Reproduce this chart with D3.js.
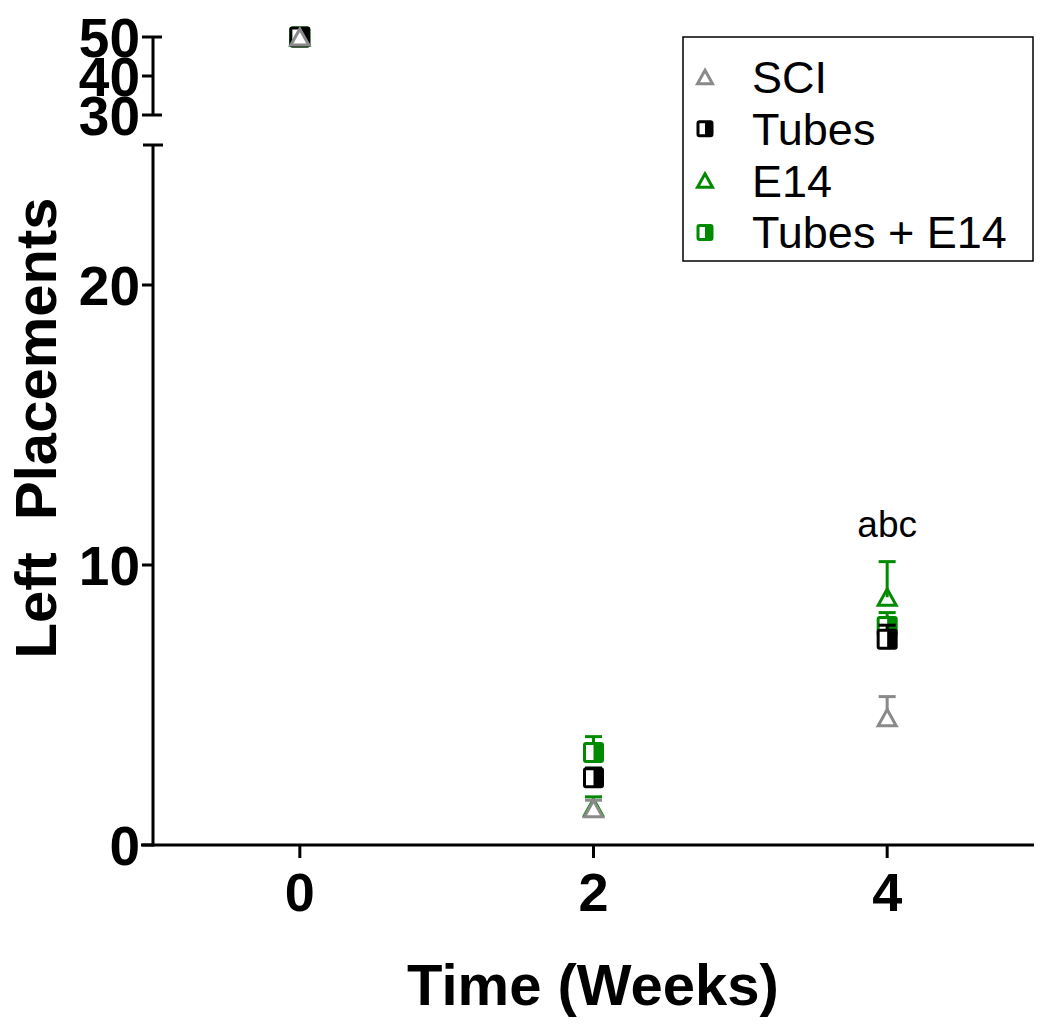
<!DOCTYPE html>
<html>
<head>
<meta charset="utf-8">
<script src="https://cdn.jsdelivr.net/npm/d3@7/dist/d3.min.js"></script>
<style>
  html, body { margin: 0; padding: 0; background: #fff; }
  svg { display: block; font-family: "Liberation Sans", Arial, Helvetica, sans-serif; }
</style>
</head>
<body>
<svg id="chart" width="1050" height="1030"></svg>
<script>
// ---- data ----
const weeks = [0, 2, 4];
const xTicks = [0, 2, 4];
const yTicksLow = [0, 10, 20];
const yTicksHigh = [30, 40, 50];
const seriesNames = ["SCI", "Tubes", "E14", "Tubes + E14"];
const sciMean = [50, 1.3, 4.55];
const sciErr = [0, 0.3, 0.75];
const tubesMean = [50, 2.4, 7.35];
const tubesErr = [0, 0.35, 0.5];
const e14Mean = [50, 1.35, 8.85];
const e14Err = [0, 0.37, 1.27];
const tubesE14Mean = [50, 3.3, 7.8];
const tubesE14Err = [0, 0.57, 0.5];
const annotation = "abc";

// ---- styles ----
const GREEN = "#008a00", GRAY = "#8a8a8a", BLACK = "#000";
const series = [
  { name: seriesNames[0], mean: sciMean, err: sciErr, color: GRAY, shape: "tri", fill: "#fff" },
  { name: seriesNames[1], mean: tubesMean, err: tubesErr, color: BLACK, shape: "sq" },
  { name: seriesNames[2], mean: e14Mean, err: e14Err, color: GREEN, shape: "tri", fill: "none" },
  { name: seriesNames[3], mean: tubesE14Mean, err: tubesE14Err, color: GREEN, shape: "sq" }
];
const drawOrder = [2, 3, 1, 0];

const svg = d3.select("#chart");
const x = d3.scaleLinear().domain([-1, 5]).range([153, 1034]);
const yLow = d3.scaleLinear().domain([0, 25]).range([845, 145]);
const yHigh = d3.scaleLinear().domain([30, 50]).range([115, 37]);
const y = v => v >= 30 ? yHigh(v) : yLow(v);
const axisX = x(-1);

// ---- axes ----
const ax = svg.append("g").attr("stroke", "#000").attr("stroke-width", 3).attr("fill", "none");
ax.append("line").attr("x1", axisX).attr("x2", axisX).attr("y1", yLow(25)).attr("y2", yLow(0) + 1.5);
ax.append("line").attr("x1", axisX - 10).attr("x2", axisX + 10).attr("y1", yLow(25)).attr("y2", yLow(25));
yTicksLow.forEach(t => {
  ax.append("line").attr("x1", axisX - 11).attr("x2", axisX).attr("y1", yLow(t)).attr("y2", yLow(t));
});
ax.append("line").attr("x1", axisX).attr("x2", axisX).attr("y1", yHigh(50)).attr("y2", yHigh(30));
yTicksHigh.forEach(t => {
  const end = (t === 30 || t === 50);
  ax.append("line").attr("x1", axisX - 11).attr("x2", end ? axisX + 9 : axisX).attr("y1", yHigh(t)).attr("y2", yHigh(t));
});
ax.append("line").attr("x1", axisX - 12).attr("x2", x(5)).attr("y1", yLow(0)).attr("y2", yLow(0));
xTicks.forEach(t => {
  ax.append("line").attr("x1", x(t)).attr("x2", x(t)).attr("y1", yLow(0)).attr("y2", yLow(0) + 13);
});

// tick labels
const tl = svg.append("g").attr("font-weight", "bold").attr("font-size", 55).attr("fill", "#000");
yTicksLow.forEach(t => {
  tl.append("text").attr("x", axisX - 13).attr("y", yLow(t)).attr("dy", "0.36em").attr("text-anchor", "end").text(t);
});
yTicksHigh.forEach(t => {
  tl.append("text").attr("x", axisX - 13).attr("y", yHigh(t)).attr("dy", "0.36em").attr("text-anchor", "end").text(t);
});
xTicks.forEach(t => {
  tl.append("text").attr("x", x(t)).attr("y", 911).attr("text-anchor", "middle").attr("font-size", 54).text(t);
});

// axis titles
svg.append("text").attr("x", 593).attr("y", 1005).attr("text-anchor", "middle")
  .attr("font-weight", "bold").attr("font-size", 58).text("Time (Weeks)");
svg.append("text").attr("transform", "translate(56,428) rotate(-90)").attr("text-anchor", "middle")
  .attr("font-weight", "bold").attr("font-size", 58)
  .text("Left\u00a0\u00a0Placements");

// ---- markers ----
function drawMarker(g, cx, cy, s, color, shape, sw, fill) {
  if (shape === "tri") {
    const h = s * 0.9;
    g.append("path")
      .attr("d", `M${cx},${cy - h / 2}L${cx + s / 2},${cy + h / 2}L${cx - s / 2},${cy + h / 2}Z`)
      .attr("fill", fill || "none").attr("stroke", color).attr("stroke-width", sw).attr("stroke-linejoin", "miter");
  } else {
    g.append("rect").attr("x", cx - s / 2).attr("y", cy - s / 2).attr("width", s).attr("height", s)
      .attr("fill", "#fff").attr("stroke", color).attr("stroke-width", sw).attr("rx", 1.5);
    g.append("rect").attr("x", cx).attr("y", cy - s / 2).attr("width", s / 2).attr("height", s)
      .attr("fill", color);
  }
}

const plot = svg.append("g");
drawOrder.forEach(i => {
  const s = series[i];
  const g = plot.append("g");
  weeks.forEach((w, k) => {
    const cx = x(w), cy = y(s.mean[k]);
    if (s.err[k] > 0) {
      const top = y(s.mean[k] + s.err[k]);
      g.append("line").attr("x1", cx).attr("x2", cx).attr("y1", cy).attr("y2", top)
        .attr("stroke", s.color).attr("stroke-width", 3);
      g.append("line").attr("x1", cx - 8.5).attr("x2", cx + 8.5).attr("y1", top).attr("y2", top)
        .attr("stroke", s.color).attr("stroke-width", 3);
    }
    drawMarker(g, cx, cy, s.shape === "sq" ? 18 : 18, s.color, s.shape, 3, s.fill);
  });
});

// annotation
svg.append("text").attr("x", x(4)).attr("y", 537).attr("text-anchor", "middle")
  .attr("font-size", 37).text(annotation);

// ---- legend ----
const lg = svg.append("g");
lg.append("rect").attr("x", 683).attr("y", 37).attr("width", 350).attr("height", 224)
  .attr("fill", "#fff").attr("stroke", "#000").attr("stroke-width", 1.5);
series.forEach((s, i) => {
  const cy = 77 + i * 51.8;
  drawMarker(lg, 705, cy, s.shape === "sq" ? 14 : 15, s.color, s.shape, 3, "none");
  lg.append("text").attr("x", 752).attr("y", cy + 16).attr("font-size", 45).text(s.name);
});
</script>
</body>
</html>
